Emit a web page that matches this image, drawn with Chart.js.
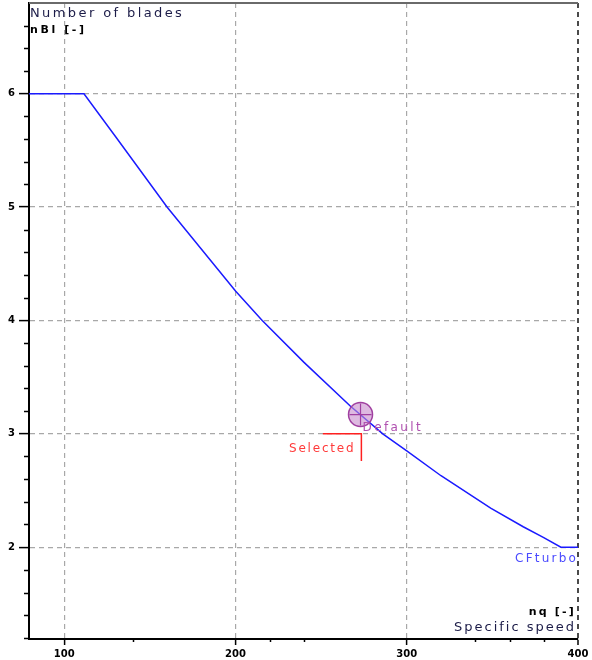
<!DOCTYPE html>
<html>
<head>
<meta charset="utf-8">
<script src="https://cdn.jsdelivr.net/npm/chart.js@4/dist/chart.umd.min.js"></script>
<style>
  html, body { margin: 0; padding: 0; background: #ffffff; }
  #wrap { width: 592px; height: 660px; }
</style>
</head>
<body>
<div id="wrap"><canvas id="c" width="592" height="660"></canvas></div>
<script>
// Blade-count curve against specific speed
const nqValues    = [79.4, 111.5, 130, 160, 200, 215.6, 240, 267, 286, 300, 320, 349, 368, 380, 390, 400];
const bladeValues = [6, 6, 5.62, 5.0, 4.26, 4.0, 3.63, 3.245, 3.0, 2.85, 2.63, 2.345, 2.18, 2.085, 2.0, 2.0];

// Default design point
const defaultNq = [273];
const defaultBlades = [3.17];

// Selected blade count bracket
const selectedNq = [251, 273.5, 273.5];
const selectedBlades = [3, 3, 2.76];

// Axis ticks
const nqTicks = [100, 200, 300, 400];
const nqMinorTicks = [140, 220, 240, 340, 360, 380];
const bladeTicks = [2, 3, 4, 5, 6];
const bladeMinorTicks = [1.2, 1.4, 1.6, 1.8, 2.2, 2.4, 2.6, 2.8, 3.2, 3.4, 3.6, 3.8,
                         4.2, 4.4, 4.6, 4.8, 5.2, 5.4, 5.6, 5.8, 6.2, 6.4, 6.6];

const FONT = '"DejaVu Sans", "Liberation Sans", sans-serif';

const toXY = (xs, ys) => xs.map((x, i) => ({ x: x, y: ys[i] }));

// Draws frame top, minor ticks and the annotation texts
const decorations = {
  id: 'decorations',
  afterDraw(chart) {
    const { ctx, chartArea: a, scales } = chart;
    const sx = scales.x, sy = scales.y;
    ctx.save();

    // top frame line
    ctx.strokeStyle = '#6a6a6a';
    ctx.lineWidth = 2;
    ctx.beginPath();
    ctx.moveTo(a.left, a.top);
    ctx.lineTo(a.right, a.top);
    ctx.stroke();

    // minor ticks
    ctx.strokeStyle = '#000';
    ctx.lineWidth = 1.5;
    bladeMinorTicks.forEach(v => {
      const py = Math.round(sy.getPixelForValue(v)) + 0.5;
      ctx.beginPath();
      ctx.moveTo(a.left - 5, py);
      ctx.lineTo(a.left, py);
      ctx.stroke();
    });
    nqMinorTicks.forEach(v => {
      const px = Math.round(sx.getPixelForValue(v)) + 0.5;
      ctx.beginPath();
      ctx.moveTo(px, a.bottom);
      ctx.lineTo(px, a.bottom + 3);
      ctx.stroke();
    });

    const text = (str, x, y, font, color, align, spacing) => {
      ctx.font = font;
      ctx.fillStyle = color;
      ctx.textAlign = align;
      ctx.textBaseline = 'alphabetic';
      ctx.letterSpacing = spacing;
      ctx.fillText(str, x, y);
    };

    // axis captions
    text('Number of blades', a.left + 1, 17, '13px ' + FONT, '#1c1c48', 'left', '2.4px');
    text('nBl [-]', a.left + 1, 33, 'bold 11px ' + FONT, '#000', 'left', '2.6px');
    text('nq [-]', a.right - 2, 615, 'bold 11px ' + FONT, '#000', 'right', '2.2px');
    text('Specific speed', a.right - 2, 631, '13px ' + FONT, '#1c1c48', 'right', '2px');

    // point annotations
    const dx = sx.getPixelForValue(defaultNq[0]);
    const dy = sy.getPixelForValue(defaultBlades[0]);
    text('Default', dx + 2, dy + 16, '12px ' + FONT, '#b050b0', 'left', '2.4px');

    const cx = sx.getPixelForValue(selectedNq[1]);
    const cy = sy.getPixelForValue(selectedBlades[1]);
    text('Selected', cx - 6, cy + 18, '12px ' + FONT, '#ff3a3a', 'right', '1.8px');

    const ex = sx.getPixelForValue(nqValues[nqValues.length - 1]);
    const ey = sy.getPixelForValue(bladeValues[bladeValues.length - 1]);
    text('CFturbo', ex, ey + 15, '12px ' + FONT, '#4a4aff', 'right', '2.2px');

    ctx.restore();
  }
};

new Chart(document.getElementById('c'), {
  type: 'line',
  data: {
    datasets: [
      {
        data: toXY(nqValues, bladeValues),
        borderColor: '#1a1aff',
        borderWidth: 1.5,
        pointRadius: 0,
        tension: 0,
        order: 3
      },
      {
        data: toXY(selectedNq, selectedBlades),
        borderColor: '#ff2020',
        borderWidth: 1.5,
        pointRadius: 0,
        tension: 0,
        order: 2
      },
      {
        data: toXY(defaultNq, defaultBlades),
        showLine: false,
        pointStyle: 'circle',
        pointRadius: 12,
        pointBackgroundColor: 'rgba(200, 140, 205, 0.6)',
        pointBorderColor: '#a040a0',
        pointBorderWidth: 1.5,
        order: 1
      },
      {
        data: toXY(defaultNq, defaultBlades),
        showLine: false,
        pointStyle: 'cross',
        pointRadius: 11,
        pointBorderColor: '#a040a0',
        pointBorderWidth: 1.2,
        order: 0
      }
    ]
  },
  options: {
    responsive: false,
    animation: false,
    events: [],
    layout: { autoPadding: false, padding: { left: 0, right: 14, top: 3, bottom: 0 } },
    plugins: { legend: { display: false }, tooltip: { enabled: false } },
    scales: {
      x: {
        type: 'linear',
        min: 79.4,
        max: 400,
        afterBuildTicks: s => { s.ticks = nqTicks.map(v => ({ value: v })); },
        afterFit: s => { s.height = 21; s.paddingLeft = 0; s.paddingRight = 0; },
        ticks: {
          color: '#000',
          font: { family: FONT, size: 10, weight: 'bold' },
          padding: 3,
          maxRotation: 0,
          autoSkip: false
        },
        grid: {
          color: c => (c.tick && c.tick.value === 400) ? '#4a4a4a' : '#a8a8a8',
          lineWidth: c => (c.tick && c.tick.value === 400) ? 2 : 1.2,
          tickColor: '#000',
          tickLength: 6,
          tickWidth: 1.5
        },
        border: { color: '#000', width: 2, dash: [5, 4] }
      },
      y: {
        type: 'linear',
        min: 1.19,
        max: 6.8,
        afterBuildTicks: s => { s.ticks = bladeTicks.map(v => ({ value: v })); },
        afterFit: s => { s.width = 29; s.paddingTop = 0; s.paddingBottom = 0; },
        ticks: {
          color: '#000',
          font: { family: FONT, size: 10, weight: 'bold' },
          padding: 4,
          autoSkip: false
        },
        grid: {
          color: '#a8a8a8',
          lineWidth: 1.2,
          tickColor: '#000',
          tickLength: 10,
          tickWidth: 1.5
        },
        border: { color: '#000', width: 2, dash: [5, 4] }
      }
    }
  },
  plugins: [decorations]
});
</script>
</body>
</html>
